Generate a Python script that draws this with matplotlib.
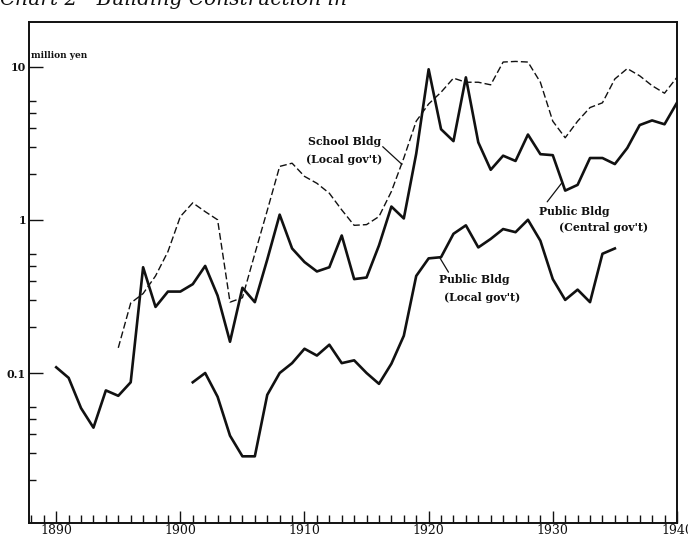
import matplotlib.pyplot as plt
from matplotlib.ticker import FixedLocator, FixedFormatter, NullFormatter

plt.rcParams['font.family'] = ['DejaVu Serif']

# construction outlays, million yen (log scale)
central_years = list(range(1890, 1941))
central_values = [
    0.109, 0.093, 0.059, 0.044, 0.077, 0.071, 0.087, 0.49, 0.27, 0.34,
    0.34, 0.38, 0.50, 0.32, 0.16, 0.36, 0.29, 0.55, 1.08, 0.65,
    0.53, 0.46, 0.49, 0.79, 0.41, 0.42, 0.68, 1.22, 1.02, 2.7,
    9.6, 3.9, 3.26, 8.5, 3.2, 2.12, 2.62, 2.42, 3.6, 2.68,
    2.64, 1.55, 1.69, 2.53, 2.53, 2.31, 2.94, 4.15, 4.45, 4.2,
    5.8,
]

school_years = list(range(1895, 1941))
school_values = [
    0.146, 0.286, 0.33, 0.43, 0.62, 1.05, 1.29, 1.13, 1.0, 0.29,
    0.31, 0.6, 1.15, 2.23, 2.34, 1.92, 1.73, 1.49, 1.16, 0.92,
    0.93, 1.05, 1.53, 2.53, 4.4, 5.7, 6.8, 8.4, 7.9, 7.9,
    7.6, 10.7, 10.8, 10.7, 7.9, 4.4, 3.43, 4.4, 5.4, 5.8,
    8.3, 9.7, 8.7, 7.5, 6.7, 8.5,
]

local_years = list(range(1901, 1936))
local_values = [
    0.087, 0.10, 0.070, 0.039, 0.0286, 0.0286, 0.072, 0.10, 0.116, 0.144,
    0.13, 0.153, 0.116, 0.121, 0.10, 0.085, 0.115, 0.175, 0.43, 0.56,
    0.57, 0.81, 0.92, 0.66, 0.75, 0.87, 0.83, 1.0, 0.73, 0.41,
    0.30, 0.35, 0.29, 0.60, 0.65,
]

ink = '#111111'

fig = plt.figure(figsize=(6.88, 5.34), dpi=100)
ax = fig.add_axes([0.042, 0.0206, 0.9419, 0.938])
ax.set_yscale('log')

ax.plot(central_years, central_values, color=ink, lw=1.9)
ax.plot(local_years, local_values, color=ink, lw=1.9)
ax.plot(school_years, school_values, color=ink, lw=1.0, dashes=(5, 2.2))

ax.set_xlim(1887.8, 1940)
ax.set_ylim(0.0105, 19.5)

# x axis: a tick every year, longer ones each decade
ax.set_xticks(range(1890, 1941, 10))
ax.set_xticks(range(1888, 1941), minor=True)
ax.tick_params(axis='x', which='major', direction='in', length=9, width=1.0,
               pad=1, labelsize=9, colors=ink)
ax.tick_params(axis='x', which='minor', direction='in', length=6, width=1.0,
               colors=ink)

# y axis: log decades with minor marks at 2..6
ax.yaxis.set_major_locator(FixedLocator([0.1, 1, 10]))
ax.yaxis.set_major_formatter(FixedFormatter(['0.1', '1', '10']))
ax.yaxis.set_minor_locator(FixedLocator(
    [m * d for d in (0.01, 0.1, 1) for m in (2, 3, 4, 5, 6)]))
ax.yaxis.set_minor_formatter(NullFormatter())
ax.tick_params(axis='y', which='major', direction='in', length=10, width=1.0,
               pad=2, labelsize=8, colors=ink)
ax.tick_params(axis='y', which='minor', direction='in', length=5, width=1.0,
               colors=ink)
for lab in ax.get_yticklabels():
    lab.set_fontweight('bold')

for side in ax.spines.values():
    side.set_linewidth(1.4)
    side.set_color(ink)

ax.text(0.004, 0.934, 'million yen', transform=ax.transAxes, fontsize=6.5,
        fontweight='bold', ha='left', va='center', color=ink)

lab_kw = dict(fontsize=7.8, fontweight='bold', color=ink, va='center')

ax.text(1913.2, 3.26, 'School Bldg', ha='center', **lab_kw)
ax.text(1913.2, 2.48, "(Local gov't)", ha='center', **lab_kw)
ax.annotate('', xy=(1917.85, 2.3), xytext=(1916.3, 3.0),
            arrowprops=dict(arrowstyle='-', lw=0.9, color=ink,
                            shrinkA=0, shrinkB=0))

ax.text(1928.9, 1.13, 'Public Bldg', ha='left', **lab_kw)
ax.text(1930.5, 0.885, "(Central gov't)", ha='left', **lab_kw)
ax.annotate('', xy=(1930.75, 1.75), xytext=(1929.55, 1.31),
            arrowprops=dict(arrowstyle='-', lw=0.9, color=ink,
                            shrinkA=0, shrinkB=0))

ax.text(1920.87, 0.41, 'Public Bldg', ha='left', **lab_kw)
ax.text(1921.27, 0.31, "(Local gov't)", ha='left', **lab_kw)
ax.annotate('', xy=(1920.9, 0.565), xytext=(1921.6, 0.455),
            arrowprops=dict(arrowstyle='-', lw=0.9, color=ink,
                            shrinkA=0, shrinkB=0))

# chart heading, its top runs off the page
fig.text(0.0, 0.9906, 'Chart 2 - Building Construction in',
         fontsize=14.5, style='italic', ha='left', va='baseline', color=ink)

fig.savefig('out.png', dpi=100, facecolor='white')
